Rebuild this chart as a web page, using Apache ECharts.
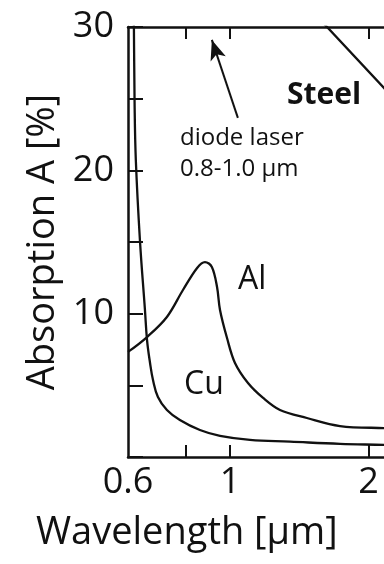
<!DOCTYPE html>
<html>
<head>
<meta charset="utf-8">
<script src="https://cdn.jsdelivr.net/npm/echarts@6/dist/echarts.min.js"></script>
<style>
html,body{margin:0;padding:0;background:#fff;}
#chart{width:384px;height:564px;}
</style>
</head>
<body>
<div id="chart"></div>
<script>
// Wavelength in µm, absorption in %
var cuWavelength = [0.616, 0.618, 0.620, 0.624, 0.637, 0.653, 0.660, 0.670, 0.680, 0.697, 0.729, 0.778, 0.860, 0.951, 1.105, 1.350, 1.734, 2.161, 3.0];
var cuAbsorption = [32, 30, 24.9, 20.7, 15.1, 10.3, 8.16, 6.56, 5.37, 4.19, 3.28, 2.58, 1.88, 1.47, 1.19, 1.07, 0.92, 0.84, 0.7];

var alWavelength = [0.6, 0.660, 0.729, 0.790, 0.848, 0.882, 0.913, 0.937, 0.951, 0.985, 1.025, 1.094, 1.180, 1.284, 1.469, 1.734, 2.161, 3.0];
var alAbsorption = [7.33, 8.37, 9.77, 11.65, 13.19, 13.6, 13.26, 11.86, 10.26, 8.30, 6.56, 5.16, 4.12, 3.28, 2.72, 2.16, 2.02, 1.9];

var steelWavelength = [1.431, 2.161, 3.0];
var steelAbsorption = [31.9, 25.75, 20.8];

var xTickValues = [0.8, 1, 2];
var xLabelValues = [0.6, 1, 2];
var yLabelValues = [10, 20, 30];

// diode laser arrow (tail -> head) in data units
var arrowTail = [1.040, 23.66];
var arrowHead = [0.913, 29.1];

function pairs(xs, ys) { return xs.map(function (x, i) { return [x, ys[i]]; }); }

var ink = '#111';
var font = '"Open Sans", "Noto Sans", sans-serif';

var chart = echarts.init(document.getElementById('chart'), null, {renderer: 'canvas'});
chart.setOption({
  animation: false,
  backgroundColor: '#fff',
  grid: {left: 128, top: 27, width: 321.5, height: 430, show: false, containLabel: false, outerBoundsMode: 'none'},
  xAxis: [{
    type: 'log', logBase: 10, min: 0.6, max: 3, position: 'bottom',
    axisLine: {show: true, lineStyle: {color: ink, width: 2.5}},
    axisTick: {show: true, inside: true, length: 12, customValues: xTickValues, lineStyle: {color: ink, width: 2}},
    minorTick: {show: false},
    axisLabel: {show: true, customValues: xLabelValues, margin: 8, color: ink, fontSize: 36, fontFamily: font,
      formatter: function (v) { return String(+v.toFixed(1)); }},
    splitLine: {show: false}
  }, {
    type: 'log', logBase: 10, min: 0.6, max: 3, position: 'top',
    axisLine: {show: true, lineStyle: {color: ink, width: 2.5}},
    axisTick: {show: true, inside: true, length: 12, customValues: xTickValues, lineStyle: {color: ink, width: 2}},
    axisLabel: {show: false},
    splitLine: {show: false}
  }],
  yAxis: {
    type: 'value', min: 0, max: 30, interval: 5,
    name: 'Absorption A [%]', nameLocation: 'middle', nameGap: 64,
    nameTextStyle: {color: ink, fontSize: 38, fontFamily: font},
    axisLine: {show: true, lineStyle: {color: ink, width: 2.5}},
    axisTick: {show: true, inside: true, length: 15, lineStyle: {color: ink, width: 2}},
    axisLabel: {show: true, customValues: yLabelValues, margin: 14, color: ink, fontSize: 36, fontFamily: font},
    splitLine: {show: false}
  },
  series: [{
    name: 'Cu', type: 'line', data: pairs(cuWavelength, cuAbsorption),
    showSymbol: false, smooth: 0.4, clip: true,
    lineStyle: {color: ink, width: 2.3}
  }, {
    name: 'Al', type: 'line', data: pairs(alWavelength, alAbsorption),
    showSymbol: false, smooth: 0.35, clip: true,
    lineStyle: {color: ink, width: 2.3}
  }, {
    name: 'Steel', type: 'line', data: pairs(steelWavelength, steelAbsorption),
    showSymbol: false, smooth: false, clip: true,
    lineStyle: {color: ink, width: 2.3},
    markLine: {
      silent: true, clip: false, symbol: ['none', 'arrow'], symbolSize: [12, 20],
      label: {show: false},
      lineStyle: {color: ink, width: 2, type: 'solid'},
      data: [[{coord: arrowTail}, {coord: arrowHead}]]
    }
  }],
  graphic: [
    {type: 'text', left: 287, top: 80, style: {text: 'Steel', fill: ink, font: 'bold 30px ' + font}},
    {type: 'text', left: 180, top: 126, style: {text: 'diode laser', fill: ink, font: '24px ' + font}},
    {type: 'text', left: 180, top: 157, style: {text: '0.8-1.0 μm', fill: ink, font: '24px ' + font}},
    {type: 'text', left: 238, top: 264, style: {text: 'Al', fill: ink, font: '32px ' + font}},
    {type: 'text', left: 184, top: 369, style: {text: 'Cu', fill: ink, font: '32px ' + font}},
    {type: 'text', left: 36, top: 514, style: {text: 'Wavelength [μm]', fill: ink, font: '38px ' + font}}
  ]
});
</script>
</body>
</html>
